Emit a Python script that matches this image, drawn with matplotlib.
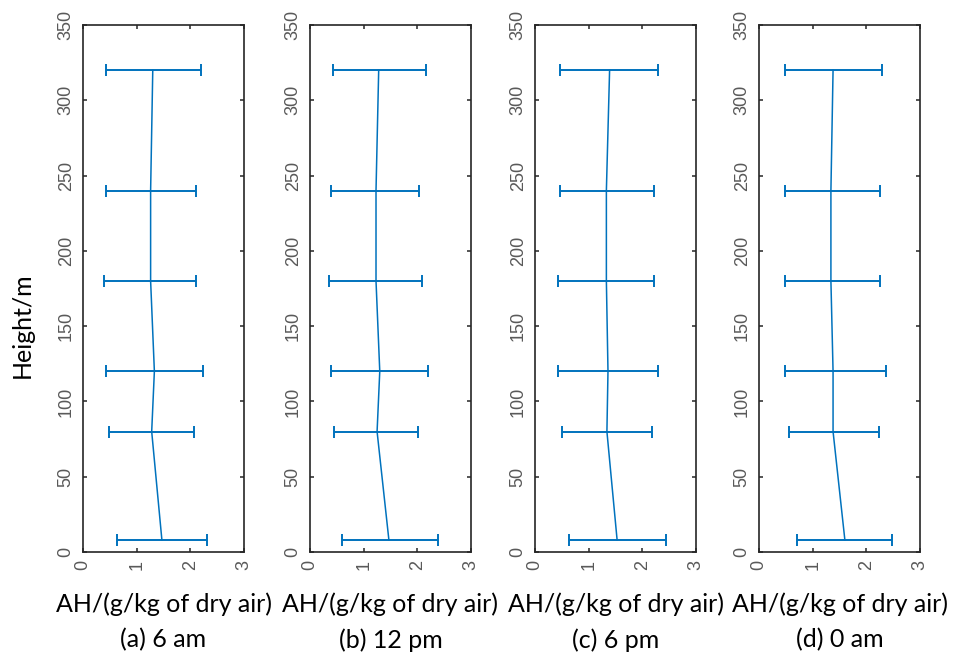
#! /usr/bin/env python3
"""
Absolute humidity profiles, four times of day
"""

import matplotlib
matplotlib.use("Agg")
import matplotlib.pyplot as plt

# heights of the measuring points (m)
heights = [8, 80, 120, 180, 240, 320]

# mean AH and min / max of each bar (g/kg of dry air)
ah_6am = [1.47, 1.28, 1.33, 1.26, 1.26, 1.30]
lo_6am = [0.63, 0.48, 0.43, 0.40, 0.42, 0.43]
hi_6am = [2.31, 2.07, 2.23, 2.11, 2.11, 2.20]

ah_12pm = [1.47, 1.25, 1.30, 1.23, 1.23, 1.28]
lo_12pm = [0.60, 0.45, 0.40, 0.36, 0.40, 0.42]
hi_12pm = [2.38, 2.02, 2.19, 2.09, 2.04, 2.16]

ah_6pm = [1.53, 1.34, 1.36, 1.33, 1.33, 1.39]
lo_6pm = [0.64, 0.51, 0.42, 0.42, 0.46, 0.46]
hi_6pm = [2.45, 2.18, 2.29, 2.21, 2.21, 2.29]

ah_0am = [1.60, 1.38, 1.38, 1.34, 1.34, 1.38]
lo_0am = [0.71, 0.56, 0.48, 0.48, 0.48, 0.48]
hi_0am = [2.47, 2.24, 2.36, 2.25, 2.25, 2.30]

captions = ["(a) 6 am", "(b) 12 pm", "(c) 6 pm", "(d) 0 am"]
xlabel = "AH/(g/kg of dry air)"
ylabel = "Height/m"
x_ticks = [0, 1, 2, 3]
y_ticks = [0, 50, 100, 150, 200, 250, 300, 350]


def main():
    colour = "#0072bd"
    tick_colour = "#595959"
    label_font = ["Lato", "DejaVu Sans"]
    series = [
        (ah_6am, lo_6am, hi_6am),
        (ah_12pm, lo_12pm, hi_12pm),
        (ah_6pm, lo_6pm, hi_6pm),
        (ah_0am, lo_0am, hi_0am),
    ]
    lefts = [83, 310, 535, 759]
    fig_w, fig_h = 975, 659
    fig = plt.figure(figsize=(fig_w / 100, fig_h / 100), dpi=100)
    for left, (ah, lo, hi), caption in zip(lefts, series, captions):
        ax = fig.add_axes([left / fig_w, (fig_h - 552) / fig_h,
                           161 / fig_w, 527 / fig_h])
        xerr = [[a - l for a, l in zip(ah, lo)],
                [h - a for a, h in zip(ah, hi)]]
        ax.errorbar(ah, heights, xerr=xerr, color=colour, linewidth=1.1,
                    elinewidth=1.4, capsize=4, capthick=1.4)
        ax.set_xlim(0, 3)
        ax.set_ylim(0, 350)
        ax.set_xticks(x_ticks)
        ax.set_yticks(y_ticks)
        ax.tick_params(direction="in", length=3, width=1.1,
                       top=True, right=True, colors="#262626",
                       labelcolor=tick_colour, labelsize=13)
        ax.tick_params(axis="y", pad=6)
        ax.tick_params(axis="x", pad=6)
        for lab in ax.get_xticklabels() + ax.get_yticklabels():
            lab.set_rotation(90)
            lab.set_fontfamily(["Liberation Sans", "DejaVu Sans"])
            lab.set_va("center")
        for lab in ax.get_xticklabels():
            lab.set_va("top")
        for lab in ax.get_yticklabels():
            lab.set_ha("right")
        for spine in ax.spines.values():
            spine.set_color("#262626")
            spine.set_linewidth(1.2)
        cx = (left + 80.5) / fig_w
        fig.text(cx, 1 - 604 / fig_h, xlabel, ha="center", va="center",
                 fontsize=18, family=label_font)
        fig.text(cx, 1 - 640 / fig_h, caption, ha="center", va="center",
                 fontsize=18, family=label_font)
    fig.text(22 / fig_w, 1 - 325 / fig_h, ylabel, rotation=90,
             ha="center", va="center", fontsize=18, family=label_font)
    fig.savefig("out.png", dpi=100)


if __name__ == "__main__":
    main()
